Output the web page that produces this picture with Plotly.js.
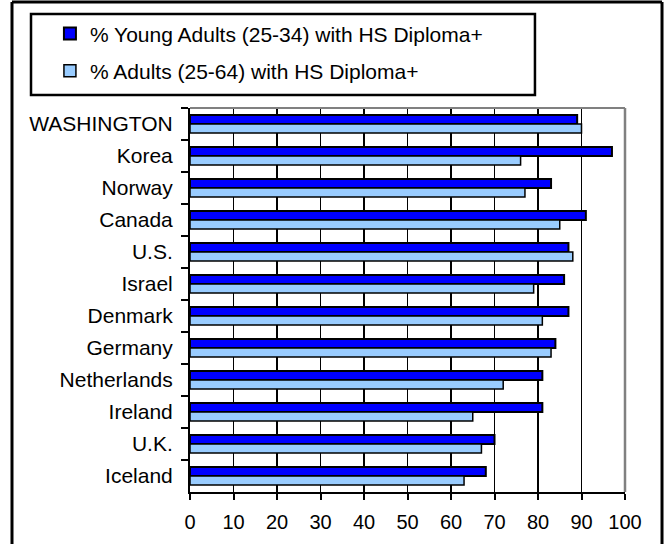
<!DOCTYPE html>
<html>
<head>
<meta charset="utf-8">
<script src="https://cdn.plot.ly/plotly-3.0.1.min.js"></script>
<style>html,body{margin:0;padding:0;background:#fff;}#chart{width:671px;height:544px;}</style>
</head>
<body>
<div id="chart"></div>
<script>
const categories = ["WASHINGTON","Korea","Norway","Canada","U.S.","Israel","Denmark","Germany","Netherlands","Ireland","U.K.","Iceland"];
const youngAdults = [89, 97, 83, 91, 87, 86, 87, 84, 81, 81, 70, 68];
const allAdults = [90, 76, 77, 85, 88, 79, 81, 83, 72, 65, 67, 63];
const seriesNames = ["% Young Adults (25-34) with HS Diploma+", "% Adults (25-64) with HS Diploma+"];
const xTicks = [0,10,20,30,40,50,60,70,80,90,100];

const FONT = "'Liberation Sans', Arial, sans-serif";

const traces = [
  {type:'bar', orientation:'h', y:categories, x:youngAdults, name:seriesNames[0], legendgroup:'a',
   marker:{color:'#0000FF', line:{color:'#000000', width:2}}},
  {type:'bar', orientation:'h', y:categories, x:allAdults, name:seriesNames[1], legendgroup:'b',
   marker:{color:'#99CCFF', line:{color:'#000000', width:1.5}}}
];

const layout = {
  width:671, height:544,
  margin:{l:190, r:46, t:108, b:52},
  paper_bgcolor:'#ffffff', plot_bgcolor:'#ffffff',
  font:{family:FONT, size:21, color:'#000000'},
  barmode:'group', bargap:0.44, bargroupgap:0,
  showlegend:true,
  legend:{x:-0.322, y:1.2464, xanchor:'left', yanchor:'top', bgcolor:'rgba(0,0,0,0)', borderwidth:0,
          traceorder:'grouped', tracegroupgap:7, font:{family:FONT, size:21, color:'#000'}},
  xaxis:{range:[0,100], tickvals:xTicks, ticktext:xTicks.map(String), showgrid:true, gridcolor:'#000000', gridwidth:1.5,
         zeroline:false, showline:true, linecolor:'#000000', linewidth:2, ticks:'outside', ticklen:6, tickwidth:2, tickcolor:'#000',
         tickfont:{family:FONT, size:20, color:'#000'}, ticklabelstandoff:5, fixedrange:true},
  yaxis:{type:'category', autorange:'reversed', showgrid:false, zeroline:false, showline:true, linecolor:'#000000', linewidth:2,
         ticks:'outside', tickson:'boundaries', ticklen:7, tickwidth:2, tickcolor:'#000',
         tickfont:{family:FONT, size:21, color:'#000'}, ticklabelstandoff:11, fixedrange:true},
  shapes:[
    {type:'line', xref:'paper', yref:'paper', x0:0, x1:1, y0:1, y1:1, line:{color:'#808080', width:2}, layer:'above'},
    {type:'line', xref:'paper', yref:'paper', x0:1, x1:1, y0:0, y1:1, line:{color:'#808080', width:2.5}, layer:'above'},
    {type:'rect', xref:'paper', yref:'paper', x0:-0.3655, x1:0.793, y0:1.0339, y1:1.2448, line:{color:'#000000', width:2.5}, fillcolor:'rgba(0,0,0,0)'},
    {type:'line', xref:'paper', yref:'paper', x0:-0.4092, x1:-0.4092, y0:-0.2, y1:1.276, line:{color:'#000000', width:3}},
    {type:'line', xref:'paper', yref:'paper', x0:-0.4092, x1:1.0851, y0:1.276, y1:1.276, line:{color:'#000000', width:3}},
    {type:'line', xref:'paper', yref:'paper', x0:1.0851, x1:1.0851, y0:-0.2, y1:1.276, line:{color:'#000000', width:3}}
  ]
};

Plotly.newPlot('chart', traces, layout, {displayModeBar:false, staticPlot:true});
</script>
</body>
</html>
